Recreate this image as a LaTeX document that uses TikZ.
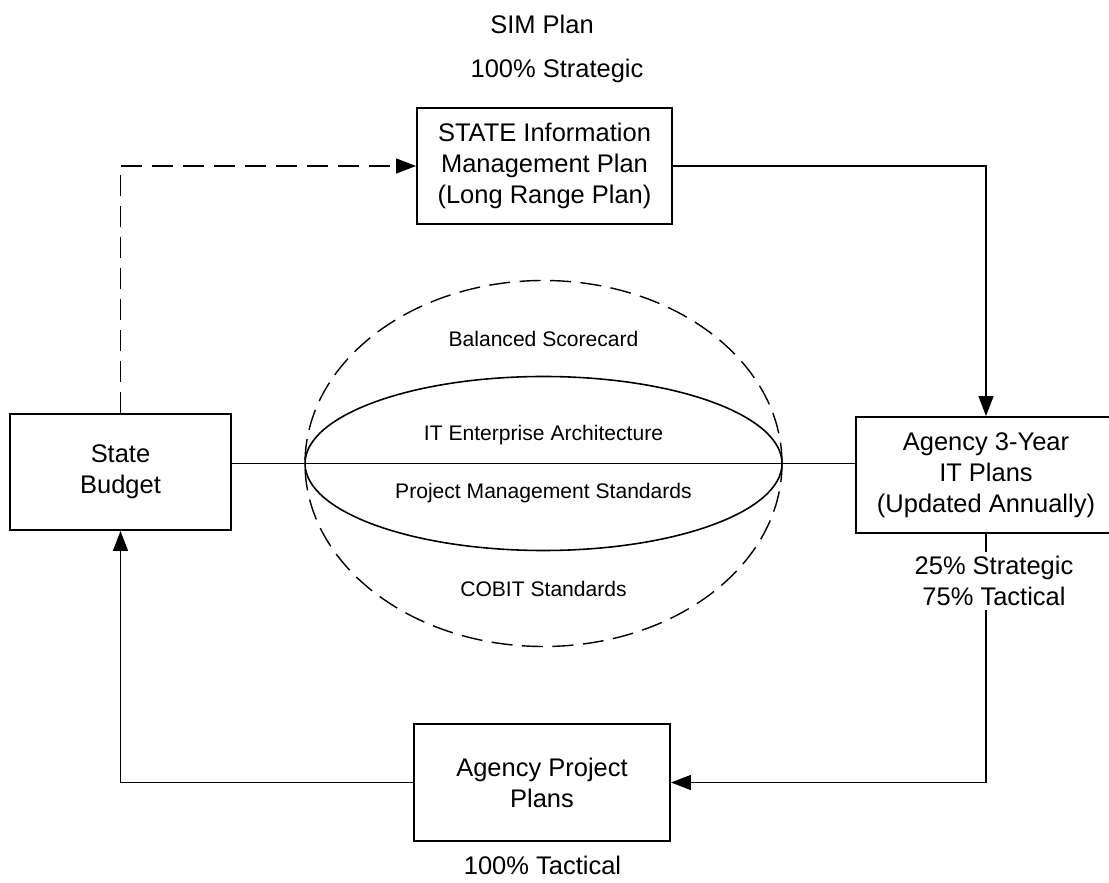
\documentclass[tikz,border=0pt]{standalone}
\usepackage{fontspec}
\setmainfont{Liberation Sans}
\usepackage{tikz}
\usetikzlibrary{arrows.meta}

\newcommand{\plantext}{\fontsize{14.5}{17.6}\selectfont}
\newcommand{\layertext}{\fontsize{12}{14}\selectfont}

\tikzset{
    planbox/.style={draw, line width=1.1pt, minimum height=2.32cm, align=center, font=\plantext},
    flow/.style={line width=0.85pt, -{Triangle[length=4mm,width=3mm]}},
    layer/.style={font=\layertext},
}

\begin{document}
\begin{tikzpicture}
    \useasboundingbox (0,0) rectangle (22.18,17.64);

    % Plans
    \node [planbox, minimum width=5.1cm] (sim) at (10.89,14.32) {STATE Information\\Management Plan\\(Long Range Plan)};
    \node [planbox, minimum width=4.42cm] (sb) at (2.41,8.2) {State\\Budget};
    \node [planbox, minimum width=5.2cm] (ag) at (19.72,8.14) {Agency 3-Year\\IT Plans\\(Updated Annually)};
    \node [planbox, minimum width=5.12cm, minimum height=2.34cm] (pp) at (10.84,1.99) {Agency Project\\Plans};

    % Labels
    \node [font=\plantext] (simlbl) at (10.84,17.16) {SIM Plan};
    \node [font=\plantext] (simpct) at (11.14,16.22) {100\% Strategic};
    \node [font=\plantext, align=center, inner sep=2pt] (agpct) at (19.88,6.02) {25\% Strategic\\75\% Tactical};
    \node [font=\plantext] (pppct) at (10.85,0.34) {100\% Tactical};

    % Standards
    \coordinate (c) at (10.87,8.37);
    \draw [line width=0.8pt, dash pattern=on 0.42cm off 0.19cm] (c) ellipse (4.77 and 3.66);
    \draw [line width=0.9pt] (c) ellipse (4.77 and 1.74);
    \draw [line width=0.85pt] (sb.east |- c) -- (ag.west |- c);
    \node [layer] (bsc) at (10.87,10.86) {Balanced Scorecard};
    \node [layer] (itea) at (10.87,8.94) {IT Enterprise Architecture};
    \node [layer] (pms) at (10.87,7.78) {Project Management Standards};
    \node [layer] (cobit) at (10.87,5.86) {COBIT Standards};

    % Cycle
    \draw [flow, dash pattern=on 0.42cm off 0.2cm] (sb.north) |- (sim.west);
    \draw [flow] (sim.east) -| (ag.north);
    \draw [line width=0.85pt] (ag.south) -- (ag.south |- agpct.north);
    \draw [flow] (ag.south |- agpct.south) |- (pp.east);
    \draw [flow] (pp.west) -| (sb.south);
\end{tikzpicture}
\end{document}
